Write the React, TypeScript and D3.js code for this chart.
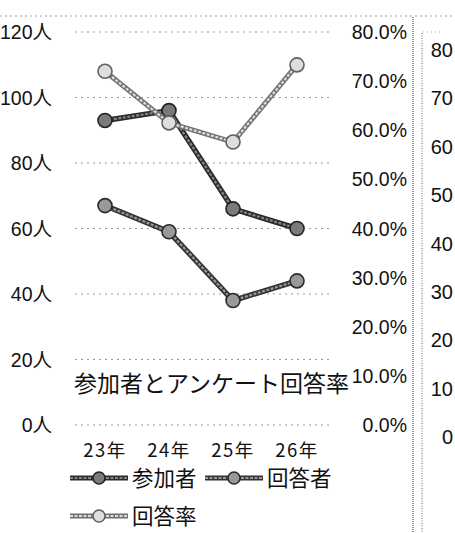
import React from "react";
import * as d3 from "d3";

const categories = ["23年", "24年", "25年", "26年"];
const participants = [93, 96, 66, 60];
const respondents = [67, 59, 38, 44];
const responseRate = [72.0, 61.5, 57.6, 73.3];
const leftTicks = [0, 20, 40, 60, 80, 100, 120];
const rightTicks = [0, 10, 20, 30, 40, 50, 60, 70, 80];
const farRightTicks = [0, 10, 20, 30, 40, 50, 60, 70, 80];
const seriesNames = ["参加者", "回答者", "回答率"];
const title = "参加者とアンケート回答率";

const W = 455;
const H = 533;
const LATIN = "'Liberation Sans', 'Noto Sans CJK JP', sans-serif";
const CJK = "'Noto Sans CJK JP', sans-serif";

const styles = [
  { outer: "#2a2a2a", inner: "#858585", ow: 5.5, iw: 2.2, fill: "#7a7a7a", mstroke: "#222" },
  { outer: "#333", inner: "#9a9a9a", ow: 5.5, iw: 2.2, fill: "#999", mstroke: "#2a2a2a" },
  { outer: "#707070", inner: "#dcdcdc", ow: 5, iw: 2.2, fill: "#dedede", mstroke: "#606060" },
];

export default function App() {
  const x = d3.scaleBand<string>().domain(categories).range([73, 329]);
  const yLeft = d3.scaleLinear().domain([0, 120]).range([425, 32]);
  const yRight = d3.scaleLinear().domain([0, 80]).range([425, 32]);
  const yFar = d3.scaleLinear().domain([0, 80]).range([437, 50]);
  const cx = (c: string) => (x(c) as number) + x.bandwidth() / 2;

  const lineLeft = d3
    .line<number>()
    .x((_, i) => cx(categories[i]))
    .y((d) => yLeft(d));
  const lineRight = d3
    .line<number>()
    .x((_, i) => cx(categories[i]))
    .y((d) => yRight(d));

  const series = [
    { data: participants, line: lineLeft, y: yLeft },
    { data: respondents, line: lineLeft, y: yLeft },
    { data: responseRate, line: lineRight, y: yRight },
  ];

  const legendItems = [
    { x: 70, y: 478 },
    { x: 205, y: 478 },
    { x: 70, y: 516 },
  ];

  return (
    <svg
      width={W}
      height={H}
      style={{ position: "absolute", left: 0, top: 0, background: "#fff" }}
    >
      <rect x={0} y={0} width={W} height={H} fill="#fff" />
      {/* top dotted border */}
      <line x1={0} x2={W} y1={16} y2={16} stroke="#999" strokeWidth={1} strokeDasharray="2,3" />
      <line x1={423} x2={442} y1={32} y2={32} stroke="#aaa" strokeWidth={1} strokeDasharray="1,3" />
      {/* vertical separators */}
      <line x1={413} x2={413} y1={17} y2={H} stroke="#777" strokeWidth={1.6} strokeDasharray="1,1" />
      <line x1={422} x2={422} y1={33} y2={H} stroke="#888" strokeWidth={1.3} strokeDasharray="1,1.5" />

      {/* gridlines */}
      {leftTicks.map((t) => (
        <line
          key={"g" + t}
          x1={75}
          x2={330}
          y1={yLeft(t)}
          y2={yLeft(t)}
          stroke="#999"
          strokeWidth={1}
          strokeDasharray="2,4"
        />
      ))}

      {/* left axis labels */}
      {leftTicks.map((t) => (
        <text
          key={"l" + t}
          x={52}
          y={yLeft(t) + 7}
          textAnchor="end"
          fontSize={19.5}
          fontFamily={LATIN}
          fill="#111"
        >
          {t + "人"}
        </text>
      ))}

      {/* right percent labels */}
      {rightTicks.map((t) => (
        <text
          key={"r" + t}
          x={407}
          y={yRight(t) + 7}
          textAnchor="end"
          fontSize={19.5}
          fontFamily={LATIN}
          fill="#111"
        >
          {t.toFixed(1) + "%"}
        </text>
      ))}

      {/* far right labels */}
      {farRightTicks.map((t) => (
        <text
          key={"f" + t}
          x={453}
          y={yFar(t) + 7}
          textAnchor="end"
          fontSize={20}
          fontFamily={LATIN}
          fill="#111"
        >
          {t}
        </text>
      ))}

      {/* title */}
      <text x={74} y={392} fontSize={23} fontFamily={CJK} fill="#111">
        {title}
      </text>

      {/* x labels */}
      {categories.map((c) => (
        <text
          key={"x" + c}
          x={cx(c)}
          y={457}
          textAnchor="middle"
          fontSize={18.5}
          fontFamily={CJK}
          letterSpacing={1.5}
          fill="#111"
        >
          {c}
        </text>
      ))}

      {/* series */}
      {series.map((s, si) => (
        <g key={"s" + si}>
          <path d={s.line(s.data) || ""} fill="none" stroke={styles[si].outer} strokeWidth={styles[si].ow} strokeLinejoin="round" />
          <path d={s.line(s.data) || ""} fill="none" stroke={styles[si].inner} strokeWidth={styles[si].iw} strokeDasharray="3,1.5" strokeLinejoin="round" />
          {s.data.map((d, i) => (
            <circle
              key={i}
              cx={cx(categories[i])}
              cy={s.y(d)}
              r={7}
              fill={styles[si].fill}
              stroke={styles[si].mstroke}
              strokeWidth={1.6}
            />
          ))}
        </g>
      ))}

      {/* legend */}
      {legendItems.map((li, i) => (
        <g key={"lg" + i}>
          <line x1={li.x} x2={li.x + 58} y1={li.y} y2={li.y} stroke={styles[i].outer} strokeWidth={5} />
          <line x1={li.x} x2={li.x + 58} y1={li.y} y2={li.y} stroke={styles[i].inner} strokeWidth={2} strokeDasharray="3,1.5" />
          <circle cx={li.x + 29} cy={li.y} r={6} fill={styles[i].fill} stroke={styles[i].mstroke} strokeWidth={1.5} />
          <text x={li.x + 62} y={li.y + 8} fontSize={21.5} fontFamily={CJK} fill="#111">
            {seriesNames[i]}
          </text>
        </g>
      ))}
    </svg>
  );
}
